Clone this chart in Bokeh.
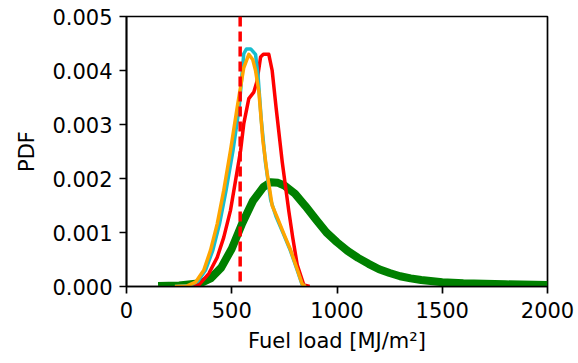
from bokeh.plotting import figure
from bokeh.models import Range1d, FixedTicker, PrintfTickFormatter, Span
from bokeh.embed import file_html
from bokeh.resources import INLINE

# ---- data ----
green_x = [150, 250, 350, 400, 450, 500, 550, 600, 650, 684, 720, 750, 800, 850, 900,
           950, 1000, 1050, 1100, 1150, 1200, 1250, 1300, 1350, 1400, 1500, 1600,
           1700, 1800, 2000]
green_y = [0.00001, 0.00002, 0.00006, 0.00015, 0.00035, 0.0007, 0.00117, 0.00158,
           0.00184, 0.00193, 0.00192, 0.00187, 0.00172, 0.00149, 0.00124, 0.001,
           0.00082, 0.00066, 0.00053, 0.00042, 0.00032, 0.00025, 0.00019, 0.00015,
           0.00012, 0.00008, 0.00006, 0.00005, 0.00004, 0.00003]

red_x = [280, 344, 391, 431, 462, 494, 518, 542, 557, 581, 605, 620, 637, 650, 676,
         692, 711, 740, 771, 790, 811, 842, 870]
red_y = [0.0, 0.00003, 0.00024, 0.00054, 0.00091, 0.00141, 0.00196, 0.00252, 0.00301,
         0.00348, 0.0036, 0.0038, 0.00425, 0.0043, 0.0043, 0.0040, 0.0033, 0.0023,
         0.0014, 0.0009, 0.0004, 0.00003, 0.0]

cyan_x = [230, 300, 340, 375, 410, 442, 473, 506, 535, 557, 570, 590, 613, 625, 640,
          660, 685, 710, 745, 779, 811, 834, 850]
cyan_y = [0.0, 0.00002, 0.0001, 0.0003, 0.00067, 0.00116, 0.00178, 0.00252, 0.0033,
          0.00431, 0.0044, 0.0044, 0.0043, 0.0039, 0.0031, 0.0023, 0.0016, 0.0013,
          0.00098, 0.00066, 0.0003, 0.00004, 0.0]

orange_x = [230, 288, 328, 367, 399, 431, 462, 494, 526, 557, 581, 600, 613, 629, 648,
            668, 692, 716, 747, 779, 811, 834, 850]
orange_y = [0.0, 0.00001, 0.00008, 0.0003, 0.00067, 0.00116, 0.00178, 0.00252, 0.00332,
            0.00405, 0.0043, 0.0042, 0.004, 0.0036, 0.0027, 0.0021, 0.0015, 0.00128,
            0.00098, 0.00068, 0.00032, 0.00005, 0.0]

threshold = 540

x_ticks = [0, 500, 1000, 1500, 2000]
y_ticks = [0.0, 0.001, 0.002, 0.003, 0.004, 0.005]

FONT = "DejaVu Sans"
FS = "21px"

p = figure(width=578, height=363, x_range=Range1d(0, 2000), y_range=Range1d(0, 0.005),
           output_backend="svg", toolbar_location=None,
           min_border_left=126, min_border_right=31, min_border_top=16,
           min_border_bottom=77)
p.xgrid.visible = False
p.ygrid.visible = False
p.outline_line_color = "black"
p.outline_line_width = 1.7
p.background_fill_color = "white"
p.border_fill_color = "white"

p.line(green_x, green_y, line_color="#008000", line_width=8, line_join="round")
p.line(red_x, red_y, line_color="#ff0000", line_width=3.5, line_join="round")
p.line(cyan_x, cyan_y, line_color="#17becf", line_width=3.5, line_join="round")
p.line(orange_x, orange_y, line_color="#ffa500", line_width=3.5, line_join="round")

p.add_layout(Span(location=threshold, dimension="height", line_color="#ff0000",
                  line_width=3.5, line_dash="10 5"))

for ax in (p.xaxis[0], p.yaxis[0]):
    ax.axis_line_width = 1.7
    ax.major_tick_line_width = 1.7
    ax.major_tick_out = 7
    ax.major_tick_in = 0
    ax.minor_tick_out = 0
    ax.minor_tick_in = 0
    ax.major_label_text_font = FONT
    ax.major_label_text_font_size = FS
    ax.major_label_text_color = "black"
    ax.axis_label_text_font = FONT
    ax.axis_label_text_font_size = FS
    ax.axis_label_text_font_style = "normal"
    ax.axis_label_text_color = "black"

p.xaxis.ticker = FixedTicker(ticks=x_ticks)
p.yaxis.ticker = FixedTicker(ticks=y_ticks)
p.yaxis.formatter = PrintfTickFormatter(format="%.3f")
p.xaxis.major_label_standoff = 8
p.yaxis.major_label_standoff = 7
p.xaxis.axis_label = "Fuel load [MJ/m²]"
p.yaxis.axis_label = "PDF"
p.xaxis.axis_label_standoff = 8
p.yaxis.axis_label_standoff = 10

open("out.html", "w").write(file_html(p, INLINE))
